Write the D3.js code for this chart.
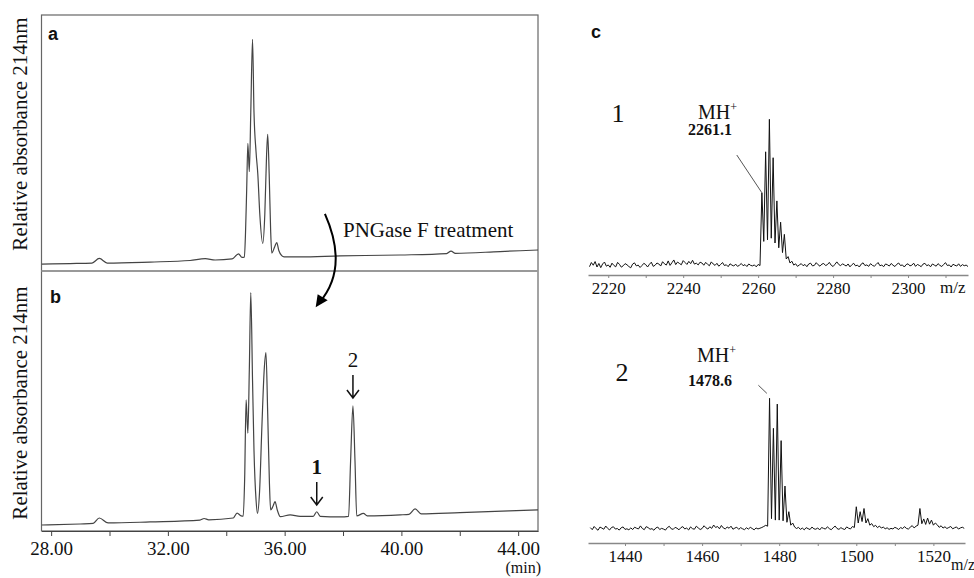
<!DOCTYPE html>
<meta charset="utf-8">
<style>
body { margin: 0; background: #fff; }
svg { display: block; }
.serif { font-family: "Liberation Serif", "Times New Roman", serif; fill: #111; }
.panel { font-family: "Liberation Sans", Arial, sans-serif; font-weight: bold; font-size: 18px; fill: #111; }
</style>
<svg width="974" height="578"></svg>
<script src="https://cdn.jsdelivr.net/npm/d3@7"></script>
<script>

// chromatogram a (before PNGase F): retention time (min) / relative absorbance
var timeA = [27.68, 28.65, 29.40, 29.65, 29.92, 31.39, 32.76, 33.28, 33.62, 34.20,
             34.42, 34.54, 34.62, 34.66, 34.70, 34.74, 34.79, 34.84, 34.90, 34.95,
             35.02, 35.08, 35.15, 35.25, 35.32, 35.38, 35.42, 35.47, 35.52, 35.56,
             35.66, 35.73, 35.80, 35.90, 35.98, 36.53, 37.90, 39.96, 41.55, 41.70,
             41.85, 43.38, 44.68];
var absA  = [2.7, 2.9, 3.1, 4.9, 3.1, 3.5, 4.1, 4.8, 4.3, 4.7,
             6.7, 5.3, 5.4, 15, 32, 49.9, 38.8, 62, 90.5, 62,
             46.6, 38, 22, 10.8, 22, 45, 53.4, 38, 16, 7.0,
             9.5, 11.1, 8.0, 6.0, 5.5, 5.5, 5.9, 6.25, 6.8, 7.8,
             6.9, 7.6, 8.2];

// chromatogram b (after PNGase F)
var timeB = [27.68, 28.99, 29.44, 29.65, 29.95, 31.39, 33.10, 33.24, 33.40, 34.24,
             34.37, 34.51, 34.58, 34.63, 34.68, 34.74, 34.79, 34.84, 34.90, 34.95,
             35.02, 35.07, 35.14, 35.22, 35.30, 35.36, 35.42, 35.48, 35.52, 35.60,
             35.67, 35.75, 35.85, 36.19, 36.53, 36.98, 37.10, 37.22, 37.90, 38.19,
             38.26, 38.34, 38.41, 38.47, 38.70, 38.83, 39.96, 40.26, 40.47, 40.68,
             42.01, 44.68];
var absB  = [2.3, 2.7, 2.9, 5.0, 3.1, 3.5, 4.2, 4.8, 4.3, 5.0,
             6.9, 5.8, 5.7, 20, 50.4, 37.6, 62, 91.7, 58, 31,
             12, 6.8, 15, 40, 62, 68.6, 45, 18, 8.1, 9.5,
             11.3, 8, 5.5, 6.2, 5.6, 5.6, 7.4, 5.6, 5.4, 5.6,
             27, 48.1, 27, 5.8, 6.8, 5.8, 6.2, 6.4, 8.5, 6.6,
             7.1, 8.1];

var timeTicks = [28, 30, 32, 34, 36, 38, 40, 42, 44];

// MS spectrum of peak 1: m/z 2215 .. 2316, every 0.5
var ms1Start = 2215, ms1Step = 0.5;
var ms1 = [
  5.2,7.8,6.1,8.4,5.0,7.2,4.6,6.9,8.1,5.5,6.3,4.8,7.4,6.0,5.1,7.9,6.6,4.9,5.8,7.1,
  6.4,5.3,4.5,6.8,7.6,5.7,6.2,4.7,5.9,7.3,6.5,5.0,6.7,8.0,5.4,6.1,7.5,6.9,5.6,8.3,
  7.0,6.2,8.8,6.0,7.7,9.4,6.5,8.1,7.2,6.4,9.0,7.8,6.6,8.5,7.1,9.2,6.8,7.4,6.3,8.0,
  7.5,6.1,7.9,6.7,5.8,8.2,6.9,6.0,7.3,5.5,6.6,7.8,5.9,6.4,5.2,7.0,6.2,5.6,6.8,5.4,
  6.1,7.2,5.8,6.5,5.3,6.9,6.0,5.7,6.3,5.1,6.6,5.9,
  51.4,21,77,22,97.3,23,73.3,20,46.3,17,33,14,25.4,10,11.5,
  7.5,8.6,6.2,7.0,5.4,6.3,7.1,5.8,6.6,5.2,6.9,7.4,5.7,6.0,7.7,6.4,5.5,6.8,7.2,5.9,
  6.5,7.9,6.1,5.3,6.7,8.2,6.6,5.8,7.0,6.3,5.6,6.9,5.1,6.4,7.3,5.7,6.2,5.0,6.8,7.6,
  5.9,6.3,5.4,7.1,6.0,5.5,6.6,7.8,5.8,6.2,5.2,6.9,6.4,5.6,7.2,6.1,5.3,6.7,7.5,5.9,
  6.3,5.0,6.5,7.0,5.7,6.1,7.4,5.4,6.6,6.0,5.2,6.8,7.3,5.8,6.4,5.1,6.9,6.2,5.5,7.1,
  6.0,5.3,6.6,7.7,5.9,6.3,5.0,6.7,6.1,5.6,7.0,5.4,6.5,5.8,6.2,5.3
];
var ms1Ticks = [2220, 2230, 2240, 2250, 2260, 2270, 2280, 2290, 2300, 2310];

// MS spectrum of peak 2: m/z 1431 .. 1528, every 0.5
var ms2Start = 1431, ms2Step = 0.5;
var ms2 = [
  10.8,9.4,11.6,10.1,9.0,11.2,10.5,9.7,11.9,10.3,9.2,10.9,11.4,9.8,10.2,9.1,10.7,11.3,9.6,10.0,
  9.3,10.6,9.5,11.1,10.4,9.9,12.0,10.2,9.4,11.5,10.8,9.7,10.1,9.0,10.6,11.2,9.5,10.3,9.8,9.1,
  10.9,11.7,10.0,9.6,11.0,10.4,9.3,10.8,11.5,9.9,10.5,9.2,11.3,10.1,9.7,11.8,10.6,9.5,10.2,12.1,
  10.7,9.8,11.4,10.3,12.6,10.9,11.6,10.0,12.3,10.6,9.9,11.2,10.4,11.8,9.7,10.5,11.1,9.6,10.8,10.0,
  9.4,10.7,9.8,11.0,10.2,9.3,10.6,9.9,10.4,10.9,11.6,12.4,11.8,
  100,17,79.3,16,96,16,70.8,15.5,39.5,14.5,21.8,12.5,14,11.2,
  10.2,11.0,9.6,10.5,9.3,10.8,10.1,9.5,11.2,10.0,9.7,10.6,9.2,10.9,10.3,9.8,11.4,10.1,9.4,10.7,
  11.9,10.2,9.6,10.8,10.0,9.5,11.3,10.4,9.9,11.6,10.9,
  25.2,14,21.8,15,24,14,17,12.5,
  13.6,11.5,12.4,10.8,11.9,10.5,11.2,10.0,10.7,9.6,10.3,9.9,11.0,10.4,9.5,10.9,10.1,11.5,10.3,9.8,
  11.1,12.2,10.6,11.8,12.5,
  24,13.5,16.8,13,17.4,13.2,16,12.5,14,
  12.8,11.0,12.1,10.5,11.4,10.2,10.9,11.6,10.0,10.7,11.3,9.8,10.6,11.1,10.3
];
var ms2Ticks = [1440, 1450, 1460, 1470, 1480, 1490, 1500, 1510, 1520];

var svg = d3.select("svg");

// ---------- panels a / b ----------
var x = d3.scaleLinear().domain([27.67, 44.68]).range([41.5, 538]);
var yA = d3.scaleLinear().domain([0, 100]).range([271, 15]);
var yB = d3.scaleLinear().domain([0, 100]).range([531, 271]);

svg.append("rect")
    .attr("x", 41.5).attr("y", 15)
    .attr("width", 538 - 41.5).attr("height", 531 - 15)
    .attr("fill", "none").attr("stroke", "#666").attr("stroke-width", 1.2);
svg.append("line")
    .attr("x1", 41.5).attr("x2", 538).attr("y1", 271).attr("y2", 271)
    .attr("stroke", "#999").attr("stroke-width", 2);

function chrom(ts, vs, y) {
  var line = d3.line()
      .x(function(d) { return x(d[0]); })
      .y(function(d) { return y(d[1]); })
      .curve(d3.curveMonotoneX);
  svg.append("path")
      .datum(d3.zip(ts, vs))
      .attr("d", line)
      .attr("fill", "none")
      .attr("stroke", "#444")
      .attr("stroke-width", 1.2);
}
chrom(timeA, absA, yA);
chrom(timeB, absB, yB);

var xAxis = svg.append("g")
    .attr("transform", "translate(0,531)")
    .call(d3.axisBottom(x)
      .tickValues(timeTicks)
      .tickSize(5)
      .tickSizeOuter(0)
      .tickPadding(6)
      .tickFormat(function(d) { return d % 4 === 0 ? d.toFixed(2) : ""; }));
xAxis.attr("font-family", "Liberation Serif").attr("font-size", 19);
xAxis.select(".domain").attr("stroke", "#444");
xAxis.selectAll(".tick line").attr("stroke", "#444");
xAxis.selectAll("text").attr("class", "serif").attr("fill", "#111");

svg.append("text").attr("class", "serif")
    .attr("x", 541).attr("y", 573)
    .attr("text-anchor", "end")
    .style("font-size", "16px")
    .text("(min)");

[134, 403].forEach(function(cy) {
  svg.append("text").attr("class", "serif")
      .attr("transform", "translate(26.5," + cy + ") rotate(-90)")
      .attr("text-anchor", "middle")
      .style("font-size", "21px")
      .text("Relative absorbance 214nm");
});

svg.append("text").attr("class", "panel").attr("x", 48).attr("y", 40).text("a");
svg.append("text").attr("class", "panel").attr("x", 50).attr("y", 303).text("b");

// PNGase F curved arrow
svg.append("text").attr("class", "serif")
    .attr("x", 343).attr("y", 237)
    .style("font-size", "21px")
    .text("PNGase F treatment");
svg.append("path")
    .attr("d", "M" + x(37.38) + "," + yA(22.3) + " Q" + x(38.2) + "," + yA(1.2) + " " + x(37.2) + "," + yB(88))
    .attr("fill", "none").attr("stroke", "#000").attr("stroke-width", 2);
var ax = x(37.2), ay = yB(88);
svg.append("path")
    .attr("d", "M" + (ax - 4) + "," + (ay + 5) + " L" + (ax - 2) + "," + (ay - 8) + " L" + (ax + 8) + "," + (ay - 2) + " Z")
    .attr("fill", "#000");

// numbered arrows over peaks 1 and 2
function downArrow(t, y0, y1) {
  var xx = x(t);
  svg.append("path")
      .attr("d", "M" + xx + "," + y0 + " L" + xx + "," + y1 +
                 " M" + (xx - 6) + "," + (y1 - 8) + " L" + xx + "," + y1 + " L" + (xx + 6) + "," + (y1 - 8))
      .attr("fill", "none").attr("stroke", "#111").attr("stroke-width", 1.5);
}
downArrow(37.10, 482, 505);
downArrow(38.34, 375, 398);
svg.append("text").attr("class", "serif")
    .attr("x", x(37.10)).attr("y", 474).attr("text-anchor", "middle")
    .style("font-size", "21px").style("font-weight", "bold").text("1");
svg.append("text").attr("class", "serif")
    .attr("x", x(38.34)).attr("y", 367).attr("text-anchor", "middle")
    .style("font-size", "21px").text("2");

// ---------- panel c ----------
svg.append("text").attr("class", "panel").attr("x", 591).attr("y", 38).text("c");

function spectrum(vals, start, step, xs, ys, ticks, axisY, pad) {
  var pts = vals.map(function(v, i) { return [start + i * step, v]; });
  svg.append("path")
      .datum(pts)
      .attr("d", d3.line()
        .x(function(d) { return xs(d[0]); })
        .y(function(d) { return ys(d[1]); }))
      .attr("fill", "none")
      .attr("stroke", "#111")
      .attr("stroke-width", 1);
  var g = svg.append("g")
      .attr("transform", "translate(0," + axisY + ")")
      .call(d3.axisBottom(xs)
        .tickValues(ticks)
        .tickSize(3)
        .tickSizeOuter(0)
        .tickPadding(pad)
        .tickFormat(function(d) { return d % 20 === 0 ? d : ""; }));
  g.attr("font-family", "Liberation Serif").attr("font-size", 17);
  g.select(".domain").attr("stroke", "#888").attr("stroke-width", 1.5);
  g.selectAll(".tick line").attr("stroke", "#888");
  g.selectAll("text").attr("class", "serif").attr("fill", "#111");
}

var xs1 = d3.scaleLinear().domain([2214.6, 2316]).range([588, 968]);
var ys1 = d3.scaleLinear().domain([0, 100]).range([275, 115]);
spectrum(ms1, ms1Start, ms1Step, xs1, ys1, ms1Ticks, 275, 4);

var xs2 = d3.scaleLinear().domain([1430.4, 1528.2]).range([588, 965]);
var ys2 = d3.scaleLinear().domain([0, 100]).range([543.3, 398.3]);
spectrum(ms2, ms2Start, ms2Step, xs2, ys2, ms2Ticks, 543, 4);

svg.append("text").attr("class", "serif").attr("x", 940).attr("y", 293)
    .style("font-size", "17px").text("m/z");
svg.append("text").attr("class", "serif").attr("x", 951).attr("y", 570)
    .style("font-size", "16px").text("m/z");

// labels and leader lines
function msLabel(num, nx, ny, mhx, mhy, mass, mx, my) {
  svg.append("text").attr("class", "serif")
      .attr("x", nx).attr("y", ny).attr("text-anchor", "middle")
      .style("font-size", "26px").text(num);
  var t = svg.append("text").attr("class", "serif")
      .attr("x", mhx).attr("y", mhy).style("font-size", "20px");
  t.append("tspan").text("MH");
  t.append("tspan").attr("dy", -8).style("font-size", "12px").text("+");
  svg.append("text").attr("class", "serif")
      .attr("x", mx).attr("y", my)
      .style("font-size", "16px").style("font-weight", "bold").text(mass);
}
msLabel("1", 618, 122, 698, 119, "2261.1", 688, 135);
msLabel("2", 622, 381, 697, 362, "1478.6", 688, 386);

svg.append("line")
    .attr("x1", xs1(2254.3)).attr("y1", ys1(75))
    .attr("x2", xs1(2261)).attr("y2", ys1(51.4))
    .attr("stroke", "#555").attr("stroke-width", 1);
svg.append("line")
    .attr("x1", xs2(1474.6)).attr("y1", ys2(109))
    .attr("x2", xs2(1476.8)).attr("y2", ys2(103.4))
    .attr("stroke", "#555").attr("stroke-width", 1);

</script>
